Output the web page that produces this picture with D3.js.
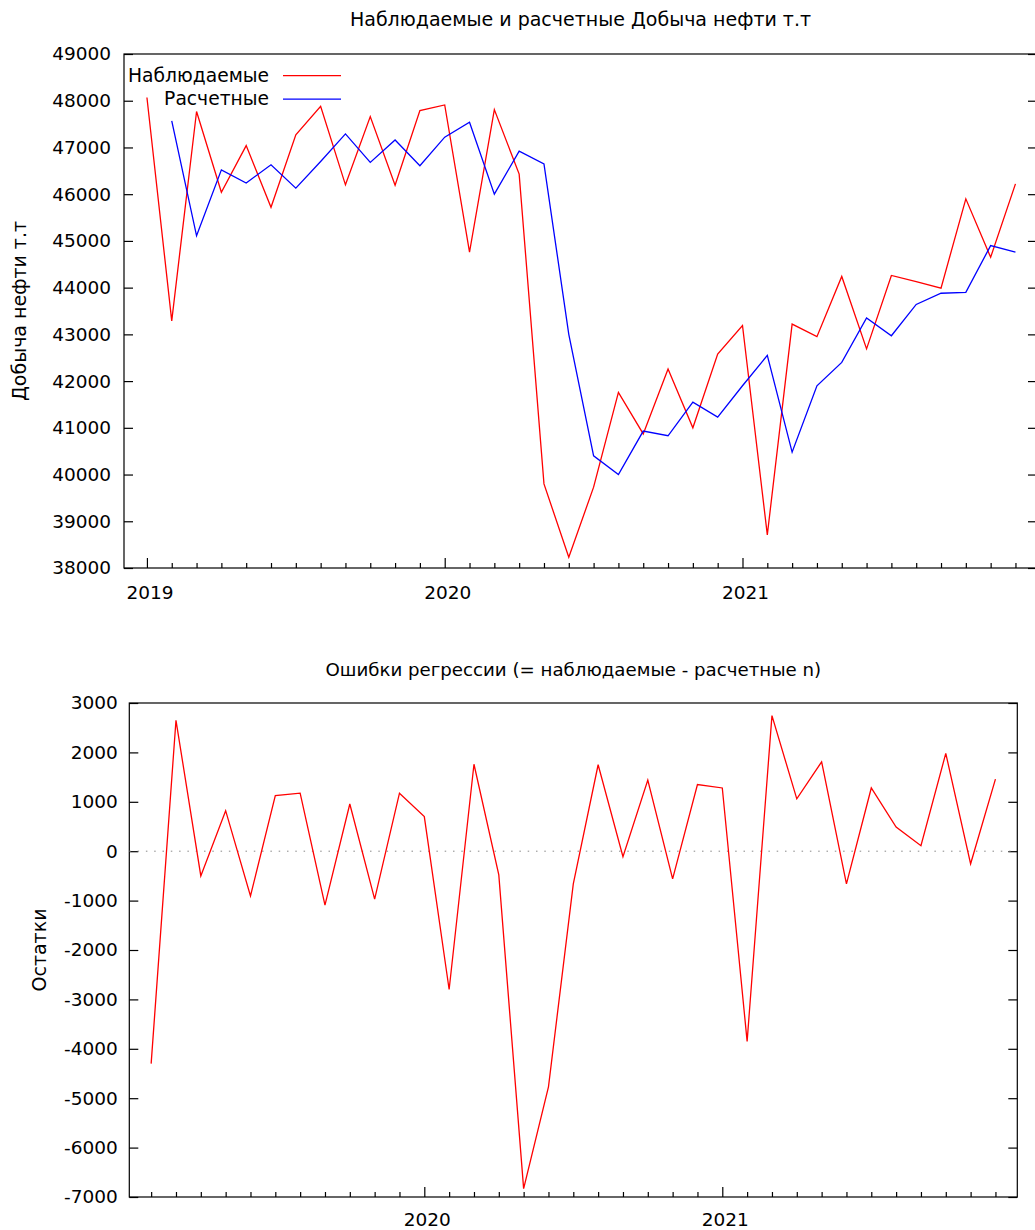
<!DOCTYPE html>
<html>
<head>
    <meta charset="utf-8">
    <title>Добыча нефти</title>
    <style>
        body { margin: 0; background: #fff; }
        text { font-family: "DejaVu Sans", sans-serif; fill: #000; }
    </style>
</head>
<body>
    <script src="https://cdn.jsdelivr.net/npm/d3@7/dist/d3.min.js"></script>
    <script>
        // периоды (месяцы) в формате gretl
        var periods = [
            "2019:01", "2019:02", "2019:03", "2019:04", "2019:05", "2019:06",
            "2019:07", "2019:08", "2019:09", "2019:10", "2019:11", "2019:12",
            "2020:01", "2020:02", "2020:03", "2020:04", "2020:05", "2020:06",
            "2020:07", "2020:08", "2020:09", "2020:10", "2020:11", "2020:12",
            "2021:01", "2021:02", "2021:03", "2021:04", "2021:05", "2021:06",
            "2021:07", "2021:08", "2021:09", "2021:10", "2021:11", "2021:12"
        ];
        // наблюдаемые значения
        var observed = [
            48070, 43290, 47770, 46040, 47040, 45720, 47270, 47880, 46200, 47660, 46190, 47790,
            47910, 44760, 47810, 46430, 39800, 38230, 39730, 41760, 40870, 42260, 41000, 42580,
            43190, 38710, 43220, 42950, 44240, 42690, 44260, 44130, 43990, 45900, 44650, 46220
        ];
        // расчетные значения (первого месяца нет)
        var fitted = [
            null, 47570, 45110, 46520, 46240, 46630, 46130, 46700, 47290, 46680, 47160, 46610,
            47220, 47540, 46000, 46920, 46650, 43000, 40400, 40000, 40930, 40830, 41550, 41230,
            41900, 42550, 40480, 41900, 42400, 43350, 42970, 43640, 43880, 43900, 44900, 44760
        ];
        // остатки регрессии
        var residuals = [
            null, -4300, 2650, -500, 820, -905, 1125, 1175, -1090, 955, -970, 1175,
            700, -2800, 1760, -480, -6830, -4770, -660, 1750, -110, 1440, -560, 1350,
            1280, -3850, 2745, 1060, 1810, -660, 1280, 490, 110, 1980, -255, 1460
        ];
        var years = [2019, 2020, 2021];
        var topTicks = [38000, 39000, 40000, 41000, 42000, 43000, 44000, 45000, 46000, 47000, 48000, 49000];
        var botTicks = [-7000, -6000, -5000, -4000, -3000, -2000, -1000, 0, 1000, 2000, 3000];

        var width = 1035, height = 1230;
        var fs = 19, tickFs = 18.5;

        var toYear = p => +p.slice(0, 4) + (+p.slice(5) - 1) / 12;
        var t = periods.map(toYear);
        var plain = d => String(d);   // обычный дефис вместо знака минус

        var svg = d3.select("body").append("svg")
            .attr("width", width)
            .attr("height", height);

        function panel(box, xDomain, yDomain, yValues, opts) {
            var x = d3.scaleLinear().domain(xDomain).range([box.left, box.right]);
            var y = d3.scaleLinear().domain(yDomain).range([box.bottom, box.top]);
            var g = svg.append("g");

            var inside = t.filter(v => v >= xDomain[0] && v <= xDomain[1]);
            var minor = inside.filter(v => Math.abs(v - Math.round(v)) > 0.01);

            var xAxis = g.append("g")
                .attr("transform", `translate(0,${box.bottom})`)
                .call(d3.axisBottom(x).tickValues(years.filter(v => v >= xDomain[0] && v <= xDomain[1]))
                    .tickSize(-10).tickPadding(opts.xPad).tickFormat(plain));
            xAxis.selectAll("text").attr("dx", 2.5);

            g.append("g")
                .attr("transform", `translate(0,${box.bottom})`)
                .call(d3.axisBottom(x).tickValues(minor).tickSize(-5).tickFormat(""));

            g.append("g")
                .attr("transform", `translate(${box.left},0)`)
                .call(d3.axisLeft(y).tickValues(yValues).tickSize(-9).tickPadding(opts.yPad).tickFormat(plain));

            g.append("g")
                .attr("transform", `translate(${box.right},0)`)
                .call(d3.axisRight(y).tickValues(yValues).tickSize(-9).tickFormat(""));

            g.selectAll(".domain").remove();
            g.selectAll(".tick line").attr("stroke", "#000").attr("stroke-width", 1.2);
            g.selectAll(".tick text").attr("font-size", tickFs).attr("font-family", "DejaVu Sans").attr("fill", "#000");

            g.append("rect")
                .attr("x", box.left).attr("y", box.top)
                .attr("width", box.right - box.left).attr("height", box.bottom - box.top)
                .attr("fill", "none").attr("stroke", "#000").attr("stroke-width", 1.2);

            g.append("text")
                .attr("x", (box.left + box.right) / 2)
                .attr("y", opts.titleY)
                .attr("text-anchor", "middle")
                .attr("font-size", opts.titleFs)
                .text(opts.title);

            g.append("text")
                .attr("transform", `translate(${opts.labelX},${(box.top + box.bottom) / 2}) rotate(-90)`)
                .attr("text-anchor", "middle")
                .attr("font-size", fs)
                .text(opts.ylabel);

            return { g: g, x: x, y: y };
        }

        function series(p, values, color) {
            var line = d3.line()
                .defined(d => d[1] != null)
                .x(d => p.x(d[0]))
                .y(d => p.y(d[1]));
            p.g.append("path")
                .datum(t.map((v, i) => [v, values[i]]))
                .attr("fill", "none")
                .attr("stroke", color)
                .attr("stroke-width", 1.3)
                .attr("d", line);
        }

        // верхний график: наблюдаемые и расчетные
        var p1 = panel({ left: 124, right: 1037, top: 54, bottom: 568 },
            [2018.923, 2021.989], [38000, 49000], topTicks,
            { xPad: 18, yPad: 13, titleY: 25.5, labelX: 26, titleFs: 19,
              title: "Наблюдаемые и расчетные Добыча нефти т.т",
              ylabel: "Добыча нефти т.т" });
        series(p1, observed, "#ff0000");
        series(p1, fitted, "#0000ff");

        var legend = [["Наблюдаемые", "#ff0000"], ["Расчетные", "#0000ff"]];
        legend.forEach((d, i) => {
            p1.g.append("text")
                .attr("x", 269).attr("y", 81.7 + i * 23.4)
                .attr("text-anchor", "end")
                .attr("font-size", 18.7)
                .text(d[0]);
            p1.g.append("line")
                .attr("x1", 283).attr("x2", 341)
                .attr("y1", 75.7 + i * 23.4).attr("y2", 75.7 + i * 23.4)
                .attr("stroke", d[1]).attr("stroke-width", 1.3);
        });

        // нижний график: остатки
        var p2 = panel({ left: 129.3, right: 1017.3, top: 703, bottom: 1197 },
            [2019.010, 2021.990], [-7000, 3000], botTicks,
            { xPad: 16, yPad: 11.5, titleY: 676, labelX: 46, titleFs: 18.2,
              title: "Ошибки регрессии (= наблюдаемые - расчетные n)",
              ylabel: "Остатки" });

        p2.g.append("line")
            .attr("x1", p2.x.range()[0]).attr("x2", p2.x.range()[1])
            .attr("y1", p2.y(0)).attr("y2", p2.y(0))
            .attr("stroke", "#888").attr("stroke-width", 1)
            .attr("stroke-dasharray", "1.5,6.8");
        series(p2, residuals, "#ff0000");
    </script>
</body>
</html>
